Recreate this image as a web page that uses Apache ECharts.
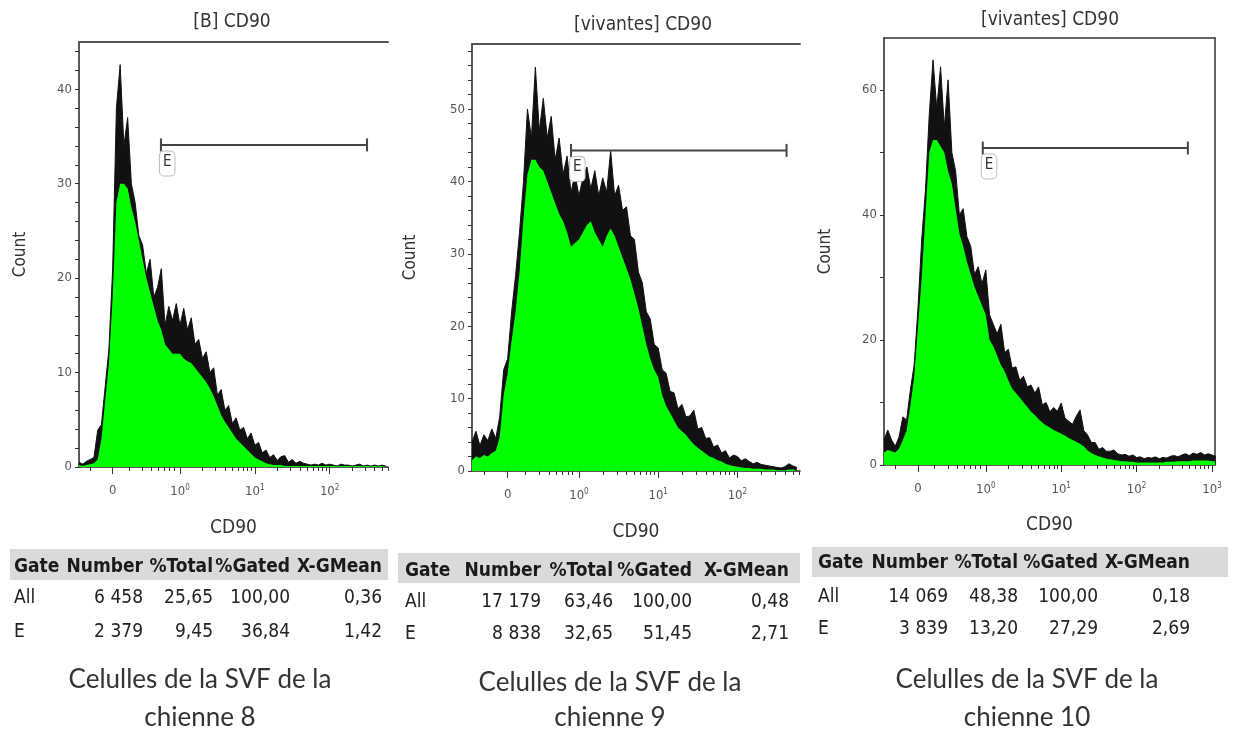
<!DOCTYPE html>
<html>
<head>
<meta charset="utf-8">
<script src="https://cdn.jsdelivr.net/npm/echarts@6/dist/echarts.min.js"></script>
<style>
html, body { margin: 0; padding: 0; background: #fff; }
#main { width: 1233px; height: 733px; }
</style>
</head>
<body>
<div id="main"></div>
<script>
// canaux CD90 : premier canal et pas (echelle biexponentielle, 1 unite = 1 decade)
var X_DEBUT = -0.35;
var X_PAS = 0.05;

// chienne 8 : enveloppe haute (trace noire) et basse (remplissage vert)
var haut8 = [0.5,0.3,0.6,0.8,1.0,3.9,4.5,8.5,12.5,21,
	38,42.6,34,37,30,28,24.5,23.5,20.5,22,
	18,19,21,15,17,15.5,17.3,15,16.8,14.5,
	15.8,13,13.5,11.5,12.2,10,10.5,7.6,8.2,6.0,
	6.5,4.6,5.2,3.9,4.2,3.0,3.6,2.3,2.6,1.5,
	1.8,1.0,1.3,0.7,1.1,1.2,0.5,0.8,0.4,0.6,
	0.4,0.3,0.2,0.3,0.2,0.4,0.2,0.3,0.2,0.1,
	0.3,0.2,0.2,0.1,0.2,0.3,0.1,0.2,0.1,0.2,
	0.1,0.2,0.1];
var bas8 = [0.2,0.1,0.2,0.3,0.4,0.8,3.0,7.0,11,18,
	28,30,30,29.5,27.5,26,24,22,20,18.5,
	17,15.5,14.5,13,12.5,12,12,12,11.5,11.2,
	11,10.5,10,9.5,9,8.3,7.5,6.5,5.5,4.8,
	4.2,3.6,3.0,2.6,2.2,1.8,1.4,1.0,0.8,0.6,
	0.4,0.3,0.2,0.2,0.2,0.1,0.1,0.1,0.1,0.1,
	0.1,0.1,0.1,0.1,0.1,0.1,0.1,0.1,0.1,0.1,
	0.1,0.1,0.1,0.1,0.1,0.1,0.1,0.1,0.1,0.1,
	0.1,0.1,0.1];

// chienne 9
var haut9 = [4.0,5.5,3.5,5.0,4.2,5.8,4.5,7.5,14,15.5,
	22,27,33,40,50,46,55.8,47,51.5,46,
	49,43,46,41,43.5,38.5,41,38,40.5,42,
	39,41.5,38,40.5,38.5,44.3,38,39.5,36,36.5,
	32.5,32,27.5,26,22,21,17.5,17,14,13.5,
	11,10.8,8.6,9.2,7.5,7.6,8.4,5.8,6,4.5,
	4.6,3.3,3.6,2.5,2.8,1.8,2.2,2.0,1.4,1.7,
	1.3,1.0,1.2,0.9,0.8,0.7,0.6,0.5,0.4,0.6,
	1.0,0.7,0.5];
var bas9 = [1.5,2.0,1.8,2.2,2.0,2.5,2.8,4.7,10.5,13.5,
	18,22,27.5,35,41,43,43,42,41.5,40,
	38.5,37,35.5,34.5,33,31,31.5,32,33,34,
	34.5,33,32,31,32.5,33.5,32.5,31,29.5,28,
	26.5,24.5,22.5,20,17.5,15.5,14,13,10.5,9,
	8,7,6,5.5,5,4.3,3.7,3.2,2.8,2.4,
	2.0,1.8,1.5,1.3,1.0,0.8,0.7,0.6,0.5,0.4,
	0.4,0.3,0.3,0.3,0.2,0.2,0.2,0.1,0.1,0.1,
	0.2,0.2,0.1];

// chienne 10
var haut10 = [4.0,5.6,4.0,3.0,4.5,7.7,7.2,12,16,25,
	36,44,56,64.8,57,63.7,54,61.6,50,47,
	40,41,36.5,35,30.5,31.7,29,31.2,24,22.5,
	21,22.5,18,18.5,15.5,15.7,13.5,14.2,12.5,12.8,
	11.5,12.5,9.6,10,8.5,9.2,8.6,9.9,7.5,7.0,
	6.5,7.8,8.8,5.5,4.8,3.6,3.6,2.5,2.8,2.2,
	2.2,2.4,1.8,1.6,1.7,1.4,1.6,1.2,1.3,1.0,
	1.2,1.1,1.3,1.0,1.2,1.1,1.4,1.5,1.3,1.6,
	1.8,1.5,1.9,1.7,2.0,1.6,1.8,1.6,1.4];
var bas10 = [2.0,2.4,2.2,2.0,2.6,4.0,5.5,9.5,14,22,
	30,40,50,52,52,51,50,47,45,41,
	37,35,32.5,30.5,28.5,27,25.5,24,20,19,
	17.5,16,15,13.5,12.2,11.5,10.8,10,9.3,8.5,
	8,7.3,6.8,6.3,6,5.6,5.3,5,4.7,4.3,
	4,3.7,3.4,3.0,2.3,1.9,1.6,1.4,1.2,1.0,
	0.9,0.8,0.7,0.6,0.6,0.5,0.5,0.4,0.4,0.4,
	0.4,0.4,0.4,0.4,0.4,0.5,0.5,0.5,0.6,0.6,
	0.6,0.6,0.7,0.7,0.7,0.7,0.7,0.6,0.6];

// graduations de l'axe CD90
var positionsDecades = [0.1, 1, 2, 3, 4];
var etiquettesDecades = ['0', '10{e|0}', '10{e|1}', '10{e|2}', '10{e|3}'];

var titres = ['[B] CD90', '[vivantes] CD90', '[vivantes] CD90'];

// porte E : debut, fin, hauteur
var porte8 = [0.745, 3.50, 34.1];
var porte9 = [0.90, 3.62, 44.3];
var porte10 = [0.96, 3.68, 50.7];

// tableaux de statistiques
var enTetes = ['Gate', 'Number', '%Total', '%Gated', 'X-GMean'];
var lignes8 = [['All', '6 458', '25,65', '100,00', '0,36'], ['E', '2 379', '9,45', '36,84', '1,42']];
var lignes9 = [['All', '17 179', '63,46', '100,00', '0,48'], ['E', '8 838', '32,65', '51,45', '2,71']];
var lignes10 = [['All', '14 069', '48,38', '100,00', '0,18'], ['E', '3 839', '13,20', '27,29', '2,69']];

var legende8 = ['Celulles de la SVF de la', 'chienne 8'];
var legende9 = ['Celulles de la SVF de la', 'chienne 9'];
var legende10 = ['Celulles de la SVF de la', 'chienne 10'];

var POLICE = '"DejaVu Sans Condensed", "Liberation Sans Narrow", sans-serif';
var POLICE_LEGENDE = 'Lato, "Open Sans", sans-serif';

var panneaux = [
	{ haut: haut8, bas: bas8, porte: porte8, lignes: lignes8, legende: legende8,
	  grille: [79, 42, 309, 425], xMax: 3.78, yMax: 45, yPas: 10, yMineur: 2, cadre: false,
	  titre: [232, 22], gapY: 50, gapX: 52,
	  bandeau: [10, 549, 378, 31], colonnes: [14, 143, 213, 290, 382], yEnTete: 567, yLignes: [598, 632],
	  xLegende: 200, yLegende: [680, 718] },
	{ haut: haut9, bas: bas9, porte: porte9, lignes: lignes9, legende: legende9,
	  grille: [472, 44, 328, 427], xMax: 3.79, yMax: 59, yPas: 10, yMineur: 2, cadre: false,
	  titre: [643, 25], gapY: 53, gapX: 52,
	  bandeau: [398, 553, 402, 30], colonnes: [405, 541, 613, 692, 789], yEnTete: 571, yLignes: [602, 634],
	  xLegende: 610, yLegende: [683, 718] },
	{ haut: haut10, bas: bas10, porte: porte10, lignes: lignes10, legende: legende10,
	  grille: [884, 38, 331, 427], xMax: 4.04, yMax: 68.3, yPas: 20, yMineur: 10, cadre: true,
	  titre: [1050, 20], gapY: 50, gapX: 51,
	  bandeau: [812, 547, 416, 30], colonnes: [818, 948, 1018, 1098, 1190], yEnTete: 563, yLignes: [597, 629],
	  xLegende: 1027, yLegende: [680, 718] }
];

function versCanaux(valeurs) {
	return valeurs.map(function (v, i) { return [X_DEBUT + i * X_PAS, v]; });
}

// petites graduations : zone lineaire autour de 0 puis log dans chaque decade
function graduationsMineures(xMax) {
	var t = [-0.2, 0.32, 0.5, 0.62, 0.71, 0.79, 0.86, 0.92];
	for (var d = 1; d < 5; d++) {
		for (var k = 2; k < 10; k++) t.push(d + Math.log10(k));
	}
	return t.filter(function (v) { return v <= xMax; });
}

function graduationsY(max, pas) {
	var t = [];
	for (var v = 0; v <= max; v += pas) t.push(v);
	return t;
}

var option = {
	animation: false,
	backgroundColor: '#fff',
	grid: [], xAxis: [], yAxis: [], series: [], graphic: []
};

panneaux.forEach(function (p, k) {
	var majeurs = positionsDecades.filter(function (v) { return v <= p.xMax; });

	option.grid.push({ left: p.grille[0], top: p.grille[1], width: p.grille[2], height: p.grille[3],
		containLabel: false, outerBoundsMode: 'none' });

	option.xAxis.push({
		type: 'value', gridIndex: k, position: 'bottom', min: X_DEBUT, max: p.xMax,
		name: 'CD90', nameLocation: 'middle', nameGap: p.gapX,
		nameTextStyle: { fontFamily: POLICE, fontSize: 19, color: '#333' },
		axisLine: { onZero: false, lineStyle: { color: '#222', width: 1.5 } },
		axisTick: { customValues: graduationsMineures(p.xMax), length: 4, lineStyle: { color: '#333' } },
		axisLabel: {
			customValues: majeurs, margin: 17, fontFamily: POLICE, fontSize: 13, color: '#555',
			formatter: function (v) { return etiquettesDecades[positionsDecades.indexOf(v)]; },
			rich: { e: { fontFamily: POLICE, fontSize: 8, color: '#555', padding: [0, 0, 7, 0] } }
		},
		splitLine: { show: false }
	});
	option.xAxis.push({
		type: 'value', gridIndex: k, position: 'bottom', offset: 0, min: X_DEBUT, max: p.xMax,
		axisLine: { show: false, onZero: false },
		axisTick: { customValues: majeurs, length: 7, lineStyle: { color: '#333' } },
		axisLabel: { show: false }, splitLine: { show: false }
	});
	option.xAxis.push({
		type: 'value', gridIndex: k, position: 'top', min: X_DEBUT, max: p.xMax,
		axisLine: { show: true, onZero: false, lineStyle: { color: p.cadre ? '#333' : '#555', width: p.cadre ? 1.5 : 2 } },
		axisTick: { show: false }, axisLabel: { show: false }, splitLine: { show: false }
	});

	option.yAxis.push({
		type: 'value', gridIndex: k, position: 'left', min: 0, max: p.yMax,
		name: 'Count', nameLocation: 'middle', nameGap: p.gapY,
		nameTextStyle: { fontFamily: POLICE, fontSize: 17, color: '#333' },
		axisLine: { show: true, onZero: false, lineStyle: { color: '#222', width: 1.5 } },
		axisTick: { show: true, customValues: graduationsY(p.yMax, p.yMineur), length: 4, lineStyle: { color: '#333' } },
		axisLabel: { customValues: graduationsY(p.yMax, p.yPas), margin: 7, fontFamily: POLICE, fontSize: 13, color: '#555' },
		splitLine: { show: false }
	});
	option.yAxis.push({
		type: 'value', gridIndex: k, position: 'right', min: 0, max: p.yMax,
		axisLine: { show: p.cadre, onZero: false, lineStyle: { color: '#333', width: 1.5 } },
		axisTick: { show: false }, axisLabel: { show: false }, splitLine: { show: false }
	});

	option.series.push({
		type: 'line', xAxisIndex: 3 * k, yAxisIndex: 2 * k, data: versCanaux(p.haut),
		symbol: 'none', silent: true,
		lineStyle: { color: '#111', width: 1 },
		areaStyle: { color: '#111', opacity: 1 }
	});
	option.series.push({
		type: 'line', xAxisIndex: 3 * k, yAxisIndex: 2 * k, data: versCanaux(p.bas),
		symbol: 'none', silent: true,
		lineStyle: { width: 0, opacity: 0 },
		areaStyle: { color: '#00ff00', opacity: 1 }
	});
	option.series.push({
		type: 'line', xAxisIndex: 3 * k, yAxisIndex: 2 * k, silent: true, z: 5,
		symbol: 'rect', symbolSize: [2, 13],
		lineStyle: { color: '#444', width: 2 },
		itemStyle: { color: '#444' },
		data: [
			{ value: [p.porte[0], p.porte[2]],
			  label: { show: true, formatter: 'E', position: [0, 13], fontFamily: POLICE, fontSize: 15, color: '#333',
			           backgroundColor: '#fff', borderColor: '#bbb', borderWidth: 1, borderRadius: 4, padding: [3, 3, 6, 3] } },
			{ value: [p.porte[1], p.porte[2]] }
		]
	});

	// titre du graphe
	option.graphic.push({ type: 'text', x: p.titre[0], y: p.titre[1],
		style: { text: titres[k], fill: '#333', font: '19px ' + POLICE, align: 'center', verticalAlign: 'middle' } });

	// tableau
	option.graphic.push({ type: 'rect', shape: { x: p.bandeau[0], y: p.bandeau[1], width: p.bandeau[2], height: p.bandeau[3] },
		style: { fill: '#dadada' } });
	enTetes.forEach(function (t, c) {
		option.graphic.push({ type: 'text', x: p.colonnes[c], y: p.yEnTete,
			style: { text: t, fill: '#1a1a1a', font: 'bold 19px ' + POLICE, align: c === 0 ? 'left' : 'right', verticalAlign: 'middle' } });
	});
	p.lignes.forEach(function (ligne, r) {
		ligne.forEach(function (t, c) {
			option.graphic.push({ type: 'text', x: p.colonnes[c], y: p.yLignes[r],
				style: { text: t, fill: '#222', font: '19px ' + POLICE, align: c === 0 ? 'left' : 'right', verticalAlign: 'middle' } });
		});
	});

	// legende sous le tableau
	p.legende.forEach(function (t, r) {
		option.graphic.push({ type: 'text', x: p.xLegende, y: p.yLegende[r],
			style: { text: t, fill: '#333', font: '26px ' + POLICE_LEGENDE, align: 'center', verticalAlign: 'middle' } });
	});
});

var myChart = echarts.init(document.getElementById('main'));
myChart.setOption(option);
</script>
</body>
</html>
